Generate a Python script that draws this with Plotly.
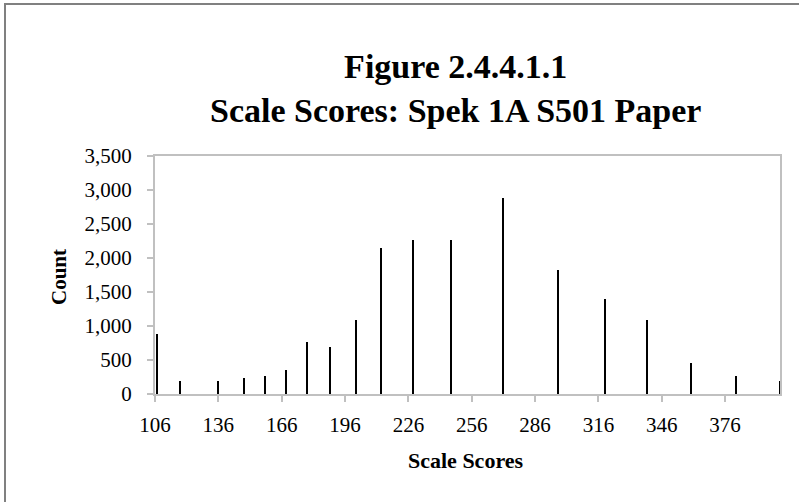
import plotly.graph_objects as go

scores = [107, 118, 136, 148, 158, 168, 178, 189, 201, 213, 228, 246, 271, 297, 319, 339, 360, 381, 402]
counts = [880, 190, 190, 240, 265, 350, 765, 690, 1085, 2140, 2270, 2270, 2880, 1820, 1400, 1085, 460, 265, 190]

title_text = "<b>Figure 2.4.4.1.1<br>Scale Scores: Spek 1A S501 Paper</b>"
x_title = "<b>Scale Scores</b>"
y_title = "<b>Count</b>"

FONT = "Liberation Serif"
OFF = 0  # body margin removed via post_script
W, H = 799, 502
# plot area in page pixels
PL, PR, PT, PB = 155, 780, 156, 394
L, T = PL - OFF, PT - OFF
R = W - (PR - OFF)
B = H - (PB - OFF)
pw, ph = PR - PL, PB - PT

def px(x):
    return (x - PL) / pw

def py(y):
    return (PB - y) / ph

fig = go.Figure()
fig.add_trace(go.Bar(x=scores, y=counts, width=1.0, marker=dict(color="black", line=dict(width=0)), showlegend=False))

fig.update_layout(
    width=W, height=H,
    margin=dict(l=L, r=R, t=T, b=B),
    paper_bgcolor="white", plot_bgcolor="white",
    font=dict(family=FONT, color="black", size=21),
    bargap=0,
)
fig.update_xaxes(
    range=[106, 402], tick0=106, dtick=30, tickmode="linear",
    showline=True, linecolor="#c0c0c0", linewidth=2, mirror=True,
    ticks="outside", ticklen=6, tickcolor="#c0c0c0", tickwidth=2,
    showgrid=False, zeroline=False, ticklabelstandoff=5,
    tickfont=dict(size=21, family=FONT),
)
fig.update_yaxes(
    range=[0, 3500], dtick=500, tickmode="linear", tickformat=",",
    showline=True, linecolor="#c0c0c0", linewidth=2, mirror=True,
    ticks="outside", ticklen=6, tickcolor="#c0c0c0", tickwidth=2,
    showgrid=False, zeroline=False, ticklabelstandoff=11,
    tickfont=dict(size=21, family=FONT),
)

fig.add_annotation(text=title_text, xref="paper", yref="paper", x=px(455), y=py(89),
                   showarrow=False, font=dict(size=34, family=FONT), xanchor="center", yanchor="middle")
fig.add_annotation(text=x_title, xref="paper", yref="paper", x=px(466), y=py(460),
                   showarrow=False, font=dict(size=22, family=FONT), xanchor="center", yanchor="middle")
fig.add_annotation(text=y_title, xref="paper", yref="paper", x=px(59), y=py(277), textangle=-90,
                   showarrow=False, font=dict(size=21, family=FONT), xanchor="center", yanchor="middle")

fig.add_shape(type="rect", xref="paper", yref="paper",
              x0=px(5), x1=px(830), y0=py(540), y1=py(4),
              line=dict(color="#808080", width=2), fillcolor="rgba(0,0,0,0)", layer="below")

fig.write_html("out.html", config={"displayModeBar": False},
               post_script="document.body.style.margin='0';")
